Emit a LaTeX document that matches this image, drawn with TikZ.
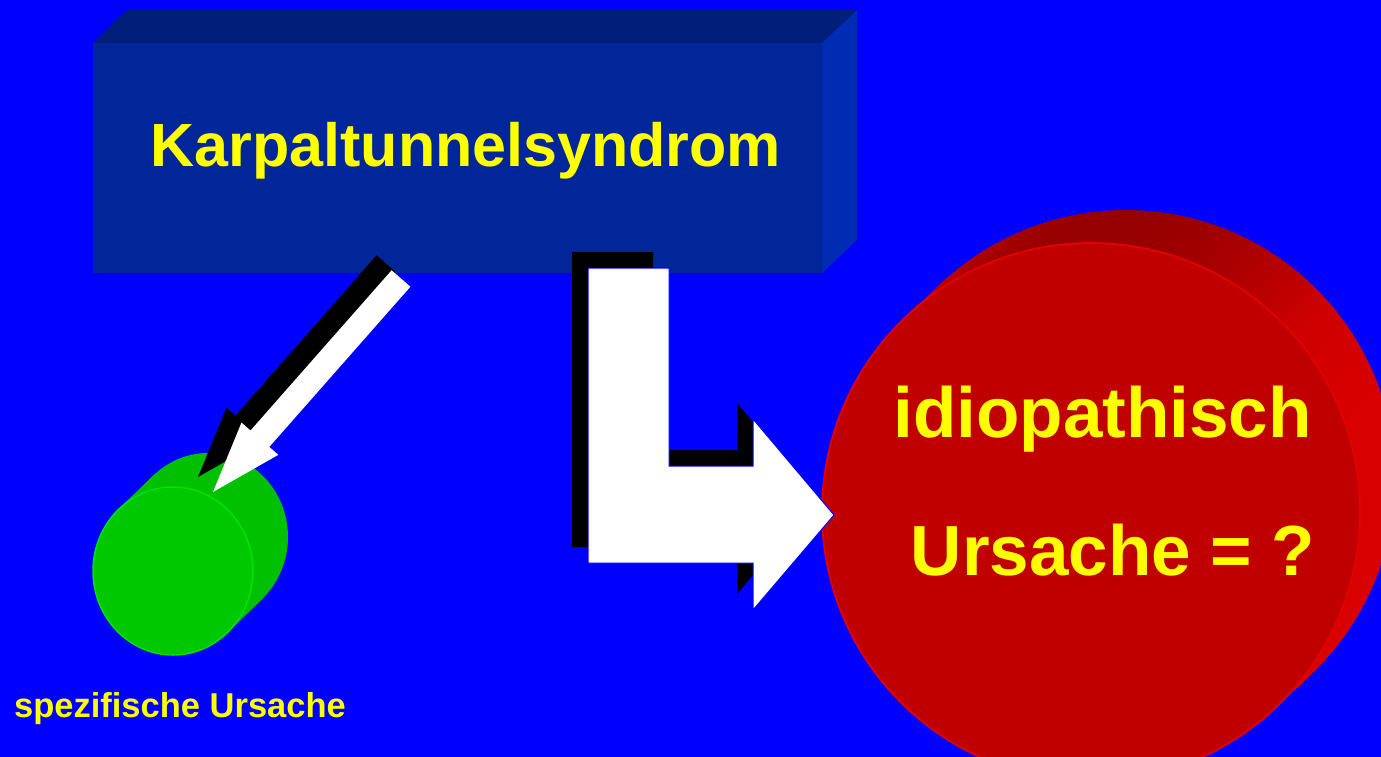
\documentclass[tikz,border=0pt]{standalone}
\usepackage{fontspec}
\setmainfont{Liberation Sans}
\usetikzlibrary{calc,shapes.geometric}
\definecolor{bg}{RGB}{0,0,255}
\definecolor{boxfront}{RGB}{0,38,153}
\definecolor{boxtop}{RGB}{0,30,122}
\definecolor{boxside}{RGB}{0,44,180}
\definecolor{txt}{RGB}{255,255,0}
\definecolor{gfront}{RGB}{0,200,0}
\definecolor{gedge}{RGB}{0,226,0}
\definecolor{gsidec}{RGB}{0,192,0}
\definecolor{rfront}{RGB}{192,0,0}
\definecolor{redge}{RGB}{228,0,0}
\definecolor{rdark}{RGB}{150,0,0}
\definecolor{rmid}{RGB}{178,0,0}
\definecolor{rlight}{RGB}{208,0,0}
\definecolor{rbright}{RGB}{216,0,0}
\pgfdeclareverticalshading{redsideshade}{100bp}{color(0bp)=(rbright); color(58bp)=(rbright); color(66bp)=(rlight); color(71bp)=(rmid); color(75bp)=(rdark); color(100bp)=(rdark)}
\tikzset{
  labeltext/.style={text=txt, inner sep=0pt, anchor=base},
  arrowwhite/.style={fill=white},
  arrowshadow/.style={fill=black},
  gside/.style={fill=gsidec},
  rside/.style={shading=redsideshade},
}
\begin{document}
\begin{tikzpicture}[x=1pt,y=-1pt]
\useasboundingbox (0,0) rectangle (1381,756);
\clip (-10,-10) rectangle (1391,766);
\fill[bg] (-10,-10) rectangle (1391,766);
% 3D box
\fill[boxtop] (93,43) -- (127,10) -- (857,10) -- (822,43) -- cycle;
\fill[boxside] (822,43) -- (857,10) -- (857,240) -- (822,273) -- cycle;
\node[fill=boxfront, minimum width=729pt, minimum height=230pt, inner sep=0pt, anchor=north west] (box) at (93,43) {};
% green cylinder
\foreach \t in {0,1,...,20}
  \fill[gside] ($(208,537)!\t/20!(173,571)$) ellipse [x radius=80pt, y radius=84pt];
\node[ellipse, fill=gfront, draw=gedge, line width=1.5pt, minimum width=160pt, minimum height=168pt, inner sep=0pt] (green) at (173,571) {};
% red cylinder
\foreach \t in {0,1,...,24}
  \shade[rside] ($(1126,479)!\t/24!(1091,512)$) circle [radius=269pt];
\node[circle, fill=rfront, draw=redge, line width=1.8pt, minimum size=538pt, inner sep=0pt] (red) at (1091,512) {};
% diagonal arrow
\fill[arrowshadow, shift={(-15,-15)}] (391.6,270.3) -- (410.4,286.7) -- (269.3,446.9) -- (278.3,454.8) -- (213,492) -- (241.5,422.6) -- (250.5,430.5) -- cycle;
\fill[arrowwhite] (391.6,270.3) -- (410.4,286.7) -- (269.3,446.9) -- (278.3,454.8) -- (213,492) -- (241.5,422.6) -- (250.5,430.5) -- cycle;
% bent arrow
\fill[arrowshadow, shift={(-16,-16)}] (588,268) -- (669,268) -- (669,466) -- (753,466) -- (753,419) -- (834,515) -- (753,610) -- (753,563) -- (588,563) -- cycle;
\filldraw[arrowwhite, draw=bg, line width=1pt] (588,268) -- (669,268) -- (669,466) -- (753,466) -- (753,419) -- (834,515) -- (753,610) -- (753,563) -- (588,563) -- cycle;
% texts
\node[labeltext, font=\bfseries\fontsize{61}{61}\selectfont] (title) at (466,166) {Karpaltunnelsyndrom};
\node[labeltext, font=\bfseries\fontsize{71}{71}\selectfont] (idio) at (1102.5,437) {idiopathisch};
\node[labeltext, font=\bfseries\fontsize{71}{71}\selectfont] (cause) at (1113,575) {Ursache = ?};
\node[labeltext, font=\bfseries\fontsize{34.5}{34.5}\selectfont] (spec) at (180,717) {spezifische Ursache};
\end{tikzpicture}
\end{document}
